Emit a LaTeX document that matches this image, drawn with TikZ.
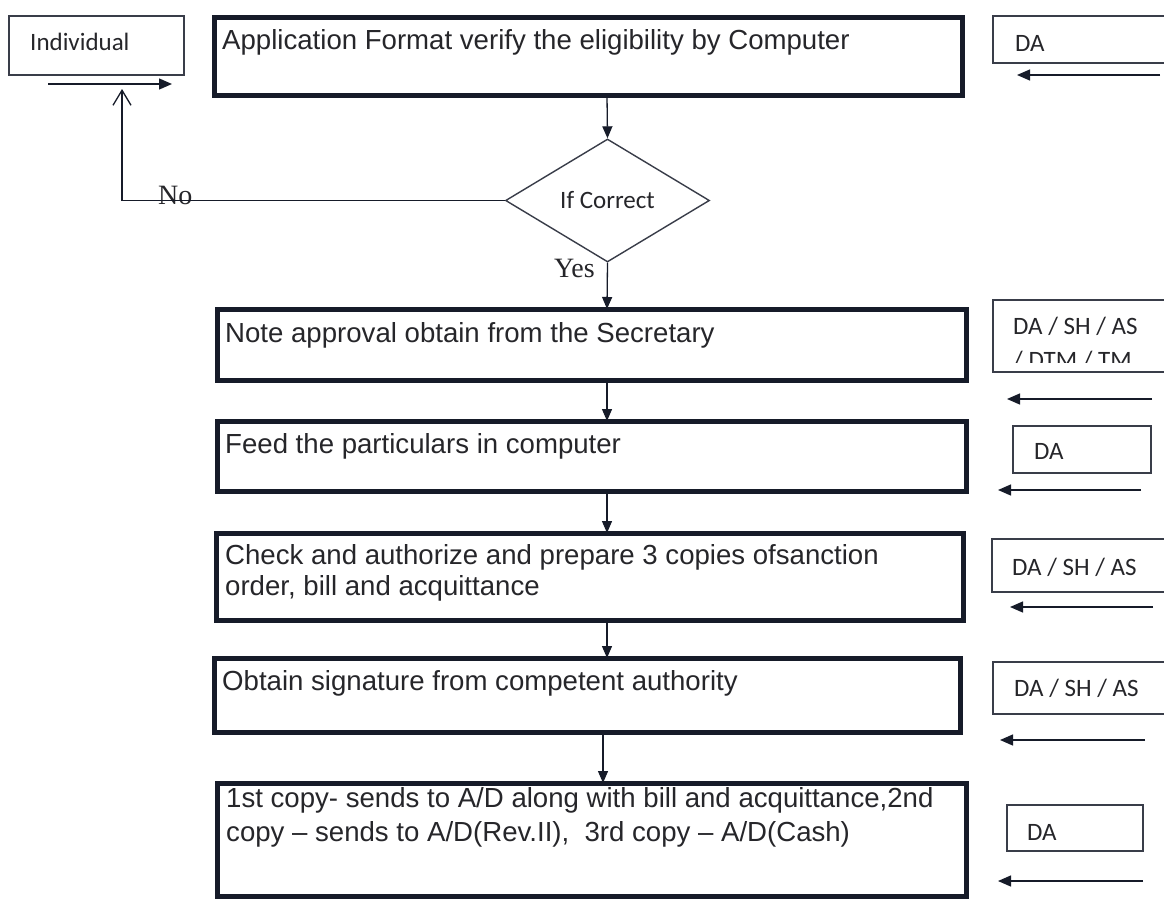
\documentclass[tikz,border=0pt]{standalone}
\usepackage{fontspec}
\setmainfont{Liberation Sans}
\newfontfamily\calfont{Carlito}
\newfontfamily\serfont{Liberation Serif}
\usetikzlibrary{arrows.meta,shapes.geometric}
\definecolor{ink}{HTML}{161B29}
\definecolor{txt}{HTML}{26262A}

\begin{document}
\begin{tikzpicture}[x=1pt,y=-1pt,
  stepbox/.style={draw=ink,line width=5pt,inner sep=0pt,outer sep=0pt},
  rolebox/.style={draw=ink!85,line width=1.4pt,inner sep=0pt,outer sep=0pt},
  steptext/.style={anchor=base west,inner sep=0pt,text=txt,font=\fontsize{27.6}{31}\selectfont},
  roletext/.style={anchor=base west,inner sep=0pt,text=txt,font=\calfont\fontsize{25}{29}\selectfont},
  serlabel/.style={anchor=base west,inner sep=0pt,text=txt,font=\serfont\fontsize{28}{32}\selectfont},
  ln/.style={draw=ink,line width=1.3pt},
  flow/.style={ln,-{Triangle[length=12pt,width=10pt]}},
  back/.style={ln,-{Triangle[length=13pt,width=11pt]}}]
\clip (0,0) rectangle (1164,902);
\fill[white] (0,0) rectangle (1164,902);

% main process boxes
\node[stepbox,minimum width=747.5pt,minimum height=78pt] (b1) at (588.25,56.5) {};
\node[stepbox,minimum width=749pt,minimum height=71.5pt] (b2) at (591.5,344.75) {};
\node[stepbox,minimum width=749pt,minimum height=70pt] (b3) at (591.5,456) {};
\node[stepbox,minimum width=747pt,minimum height=87.5pt] (b4) at (589.5,576.75) {};
\node[stepbox,minimum width=746pt,minimum height=74pt] (b5) at (587,695) {};
\node[stepbox,minimum width=749pt,minimum height=113pt] (b6) at (591.5,839.5) {};

\node[steptext] (t1) at (222,49) {Application Format verify the eligibility by Computer};
\node[steptext] (t2) at (225,342) {Note approval obtain from the Secretary};
\node[steptext] (t3) at (225,453) {Feed the particulars in computer};
\node[steptext] (t4a) at (225,564) {Check and authorize and prepare 3 copies ofsanction};
\node[steptext] (t4b) at (225,595) {order, bill and acquittance};
\node[steptext] (t5) at (222,690) {Obtain signature from competent authority};
\node[steptext] (t6a) at (226,807) {1st copy- sends to A/D along with bill and acquittance,2nd};
\node[steptext] (t6b) at (226,841) {copy -- sends to A/D(Rev.II),\ \ 3rd copy -- A/D(Cash)};

% decision
\node[draw=ink!85,line width=1.4pt,shape=diamond,inner sep=0pt,
      minimum width=204pt,minimum height=123pt,text=txt,
      font=\calfont\fontsize{25}{29}\selectfont] (dec) at (607.5,200.5) {If Correct};
\node[serlabel,anchor=base east] (yes) at (595,277) {Yes};
\node[serlabel] (no) at (158,204) {No};

% the applicant
\node[rolebox,minimum width=175pt,minimum height=59pt] (ind) at (96.5,45.5) {};
\node[roletext] (indt) at (30,50) {Individual};
\coordinate (ia) at (48,84);
\coordinate (ib) at (172,84);
\draw[back] (ia) -- (ib);
\coordinate (ret) at (122,89);
\draw[ln,-{Straight Barb[length=15pt,width=18pt,line width=1.3pt]}] (dec.west) -| (ret);

% main flow
\coordinate (spine) at (607,0);
\coordinate (spineb) at (603,0);
\draw[flow] (b1.south -| spine) -- (dec.north);
\draw[flow] (dec.south) -- (b2.north -| spine);
\draw[flow] (b2.south -| spine) -- (b3.north -| spine);
\draw[flow] (b3.south -| spine) -- (b4.north -| spine);
\draw[flow] (b4.south -| spine) -- (b5.north -| spine);
\draw[flow] (b5.south -| spineb) -- (b6.north -| spineb);

% responsible officers
\node[rolebox,minimum width=182pt,minimum height=47pt] (r1) at (1084,39.5) {};
\node[rolebox,minimum width=182pt,minimum height=72pt] (r2) at (1084,336) {};
\node[rolebox,minimum width=138pt,minimum height=47pt] (r3) at (1082,449.5) {};
\node[rolebox,minimum width=183pt,minimum height=53pt] (r4) at (1083.5,565.5) {};
\node[rolebox,minimum width=182pt,minimum height=52pt] (r5) at (1084,688) {};
\node[rolebox,minimum width=136pt,minimum height=46pt] (r6) at (1075,828) {};

\node[roletext] (rt1) at (1015,51) {DA};
\node[roletext] (rt2) at (1013,334) {DA / SH / AS};
\begin{scope}
  \clip (995,340) rectangle (1164,362);
  \node[roletext] (rt2b) at (1013,368) {/ DTM / TM};
\end{scope}
\node[roletext] (rt3) at (1034,459) {DA};
\node[roletext] (rt4) at (1012,575) {DA / SH / AS};
\node[roletext] (rt5) at (1014,696) {DA / SH / AS};
\node[roletext] (rt6) at (1027,840) {DA};

% hand-over arrows
\coordinate (a1s) at (1160,75);  \coordinate (a1e) at (1017,75);
\coordinate (a2s) at (1152,399); \coordinate (a2e) at (1007,399);
\coordinate (a3s) at (1141,490); \coordinate (a3e) at (998,490);
\coordinate (a4s) at (1153,607); \coordinate (a4e) at (1010,607);
\coordinate (a5s) at (1145,740); \coordinate (a5e) at (1000,740);
\coordinate (a6s) at (1143,881); \coordinate (a6e) at (998,881);
\foreach \k in {1,...,6} {\draw[back] (a\k s) -- (a\k e);}
\end{tikzpicture}
\end{document}
